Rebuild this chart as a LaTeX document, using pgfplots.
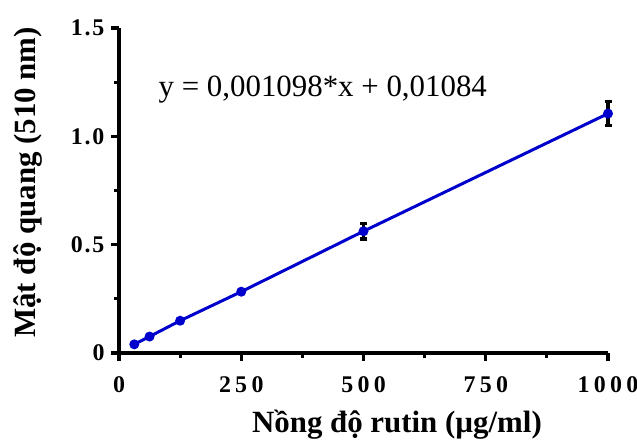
\documentclass[border=0pt]{standalone}
\usepackage{fontspec}
\setmainfont{Liberation Serif}
\usepackage{pgfplots}
\pgfplotsset{compat=1.18}
\definecolor{fitblue}{RGB}{0,0,204}

\begin{document}
\begin{tikzpicture}
\path[use as bounding box] (-119bp,-87bp) rectangle (518bp,353bp);
\begin{axis}[
  at={(0,0)}, anchor=south west,
  scale only axis, width=489bp, height=325bp,
  xmin=0, xmax=1000, ymin=0, ymax=1.5,
  clip=false,
  axis x line=bottom, axis y line=left,
  axis line style={line width=3.2bp, -},
  xtick={0,250,500,750,1000}, xticklabels={0,250,500,750,1000},
  ytick={0,0.5,1.0,1.5}, yticklabels={0,0.5,1.0,1.5},
  minor tick num=1,
  tick align=outside,
  major tick length=8bp, minor tick length=4.5bp,
  every tick/.style={black, line width=3.2bp},
  xticklabel style={font=\fontsize{24}{24}\selectfont\bfseries\addfontfeatures{LetterSpace=18}, yshift=-12bp},
  yticklabel style={font=\fontsize{24}{24}\selectfont\bfseries\addfontfeatures{LetterSpace=8}, xshift=-3bp},
  xlabel={Nồng độ rutin (µg/ml)},
  ylabel={Mật độ quang (510 nm)},
  label style={font=\fontsize{31}{31}\selectfont\bfseries},
  xlabel style={at={(axis description cs:0.5685,-0.246)}, anchor=base},
  ylabel style={at={(axis description cs:-0.186,0.525)}, anchor=center},
]
% error bars (drawn first, the fitted line lies over them)
\addplot[draw=none, mark=none, forget plot,
  error bars/.cd, y dir=both, y explicit, error mark=-,
  error bar style={black, line width=3.2bp},
  error mark options={black, line width=3.2bp, mark size=3.5bp, rotate=90}]
  coordinates {(500,0.562) +- (0,0.036) (1000,1.105) +- (0,0.055)};
\addplot[fitblue, line width=3bp, mark=*, mark size=3.4bp, mark options={fitblue}]
  coordinates {(31.25,0.04)(62.5,0.076)(125,0.149)(250,0.283)(500,0.562)(1000,1.105)};
\node[anchor=base west, font=\fontsize{31}{31}\selectfont]
  at (axis cs:74,1.183) {y = 0,001098*x + 0,01084};
\end{axis}
\end{tikzpicture}
\end{document}
